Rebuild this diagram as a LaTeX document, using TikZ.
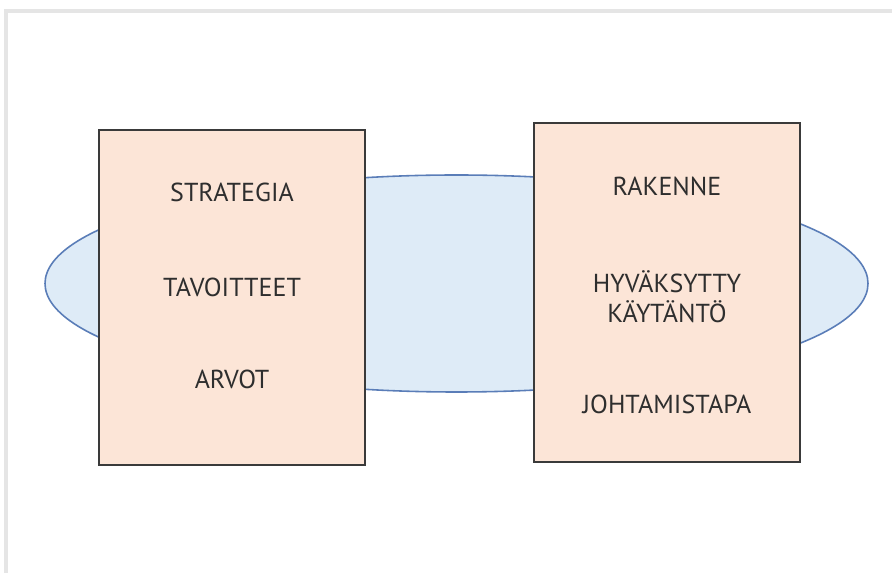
\documentclass[tikz,border=0pt]{standalone}
\usepackage{fontspec}
\setmainfont{PT Sans}
\usetikzlibrary{calc}
\usetikzlibrary{positioning}
\usetikzlibrary{shapes.geometric}

\definecolor{ovalfill}{HTML}{DEEBF7}
\definecolor{ovalline}{HTML}{5A7DB8}
\definecolor{boxfill}{HTML}{FCE5D7}
\definecolor{boxline}{HTML}{3A3A3A}
\definecolor{wordcol}{HTML}{2E2E2E}

\tikzset{
  oval/.style={ellipse, draw=ovalline, fill=ovalfill, line width=0.9pt,
    minimum width=823*0.02cm, minimum height=217*0.02cm, inner sep=0pt},
  panel/.style={rectangle, draw=boxline, fill=boxfill, line width=0.7pt,
    minimum width=266*0.02cm, minimum height=335*0.02cm, inner sep=0pt},
  word/.style={text=wordcol, font=\fontsize{14.8}{17}\selectfont, align=center}
}

\begin{document}
\begin{tikzpicture}[x=0.02cm, y=-0.02cm]
  \useasboundingbox (0,0) rectangle (892,573);
  \fill [white] (0,0) rectangle (892,573);

  % sheet edge
  \draw [black!10, line width=1.8pt] (892,11) -- (6,11) -- (6,573);

  \node [oval] (oval) at (456.5,283.5) {};

  \node [panel] (left) at (232,297.5) {};
  \node [panel, minimum height=339*0.02cm] (right) at (667,292.5) {};

  \node [word] (strategia) at ($ (left.north)+(0,63) $) {STRATEGIA};
  \node [word] (tavoitteet) at ($ (left.north)+(0,158) $) {TAVOITTEET};
  \node [word] (arvot) at ($ (left.north)+(0,250) $) {ARVOT};

  \node [word] (rakenne) at ($ (right.north)+(0,64) $) {RAKENNE};
  \node [word] (kaytanto) at ($ (right.north)+(0,174) $) {HYVÄKSYTTY\\KÄYTÄNTÖ};
  \node [word] (johtamistapa) at ($ (right.north)+(0,282) $) {JOHTAMISTAPA};
\end{tikzpicture}
\end{document}
